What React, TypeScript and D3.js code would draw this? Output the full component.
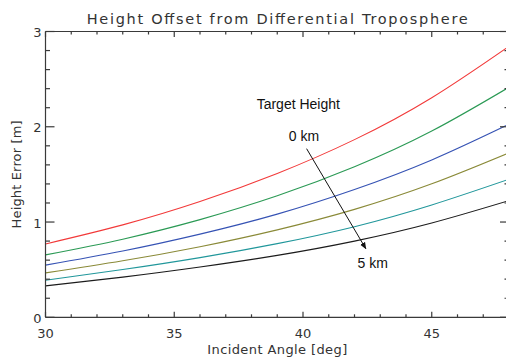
import React from "react";
import * as d3 from "d3";

// incidence angle samples (deg)
const angles = [30, 33, 36, 39, 42, 45, 48];

// height error [m] per target height, 0 km .. 5 km
const h0km = [0.77, 0.97, 1.215, 1.51, 1.865, 2.305, 2.845];
const h1km = [0.655, 0.82, 1.025, 1.275, 1.58, 1.955, 2.415];
const h2km = [0.548, 0.696, 0.873, 1.083, 1.341, 1.651, 2.026];
const h3km = [0.466, 0.593, 0.741, 0.918, 1.133, 1.401, 1.726];
const h4km = [0.389, 0.501, 0.626, 0.773, 0.951, 1.179, 1.449];
const h5km = [0.33, 0.422, 0.528, 0.65, 0.8, 0.99, 1.225];

const series = [h0km, h1km, h2km, h3km, h4km, h5km];
const colors = ["#f23a3a", "#2b9a55", "#3653b4", "#8a8a38", "#21979b", "#1c1c1c"];

const xTicks = [30, 35, 40, 45];
const yTicks = [0, 1, 2, 3];

const hershey = "'DejaVu Sans', sans-serif";
const arial = "'Liberation Sans', Arial, sans-serif";
const axisColor = "#3a3a3a";

export default function App() {
  const left = 45.5, right = 509, top = 31.5, bottom = 317.3;

  const x = d3.scaleLinear().domain([30, 48]).range([left, right]);
  const y = d3.scaleLinear().domain([0, 3]).range([bottom, top]);

  const line = d3
    .line<[number, number]>()
    .x((d) => x(d[0]))
    .y((d) => y(d[1]))
    .curve(d3.curveNatural);

  const xMinor = d3.range(30, 48.01, 1);
  const yMinor = d3.range(0, 3.001, 0.2);

  return (
    <svg width={506} height={360} style={{ position: "absolute", left: 0, top: 0, background: "#fff" }}>
      <defs>
        <marker id="arr" viewBox="0 0 10 10" refX="9" refY="5" markerWidth="7" markerHeight="7" orient="auto">
          <path d="M0,1 L10,5 L0,9 Z" fill="#111" />
        </marker>
        <clipPath id="plot">
          <rect x={left} y={top} width={right - left} height={bottom - top} />
        </clipPath>
      </defs>

      {/* curves */}
      <g clipPath="url(#plot)">
        {series.map((s, i) => (
          <path
            key={i}
            d={line(angles.map((a, j) => [a, s[j]] as [number, number])) || ""}
            fill="none"
            stroke={colors[i]}
            strokeWidth={1.1}
          />
        ))}
      </g>

      {/* frame */}
      <g stroke={axisColor} strokeWidth={1.2} fill="none">
        <line x1={left} x2={right} y1={bottom} y2={bottom} />
        <line x1={left} x2={right} y1={top} y2={top} />
        <line x1={left} x2={left} y1={top} y2={bottom} />
        <line x1={right} x2={right} y1={top} y2={bottom} />
        {xMinor.map((v) => {
          const major = xTicks.includes(Math.round(v * 10) / 10);
          const len = major ? 5.5 : 3;
          return (
            <g key={"x" + v}>
              <line x1={x(v)} x2={x(v)} y1={bottom} y2={bottom - len} />
              <line x1={x(v)} x2={x(v)} y1={top} y2={top + len} />
            </g>
          );
        })}
        {yMinor.map((v) => {
          const major = Math.abs(v - Math.round(v)) < 1e-6;
          const len = major ? 9 : 4.5;
          return (
            <g key={"y" + v.toFixed(1)}>
              <line x1={left} x2={left + len} y1={y(v)} y2={y(v)} />
              <line x1={right} x2={right - len} y1={y(v)} y2={y(v)} />
            </g>
          );
        })}
      </g>

      {/* tick labels */}
      <g fontFamily={hershey} fontSize={13} fill="#333">
        {xTicks.map((t) => (
          <text key={t} x={x(t)} y={bottom + 21} textAnchor="middle">
            {t}
          </text>
        ))}
        {yTicks.map((t) => (
          <text key={t} x={left - 4} y={y(t) + 5.5} textAnchor="end">
            {t}
          </text>
        ))}
      </g>

      {/* titles */}
      <text
        x={(left + right) / 2}
        y={23.5}
        textAnchor="middle"
        fontFamily={hershey}
        fontSize={14.5}
        fill="#333"
        textLength={381}
        lengthAdjust="spacing"
      >
        Height Offset from Differential Troposphere
      </text>
      <text
        x={(left + right) / 2}
        y={354}
        textAnchor="middle"
        fontFamily={hershey}
        fontSize={13}
        fill="#333"
        textLength={140}
        lengthAdjust="spacing"
      >
        Incident Angle [deg]
      </text>
      <text
        transform={`translate(21,${(top + bottom) / 2}) rotate(-90)`}
        textAnchor="middle"
        fontFamily={hershey}
        fontSize={13}
        fill="#333"
        textLength={108}
        lengthAdjust="spacing"
      >
        Height Error [m]
      </text>

      {/* annotation */}
      <g fontFamily={arial} fontSize={14} fill="#111">
        <text x={x(38.2)} y={y(2.19)}>Target Height</text>
        <text x={x(39.45)} y={y(1.85)}>0 km</text>
        <text x={x(42.12)} y={y(0.52)}>5 km</text>
      </g>
      <line
        x1={x(40.14)}
        y1={y(1.77)}
        x2={x(42.44)}
        y2={y(0.72)}
        stroke="#111"
        strokeWidth={1}
        markerEnd="url(#arr)"
      />
    </svg>
  );
}
